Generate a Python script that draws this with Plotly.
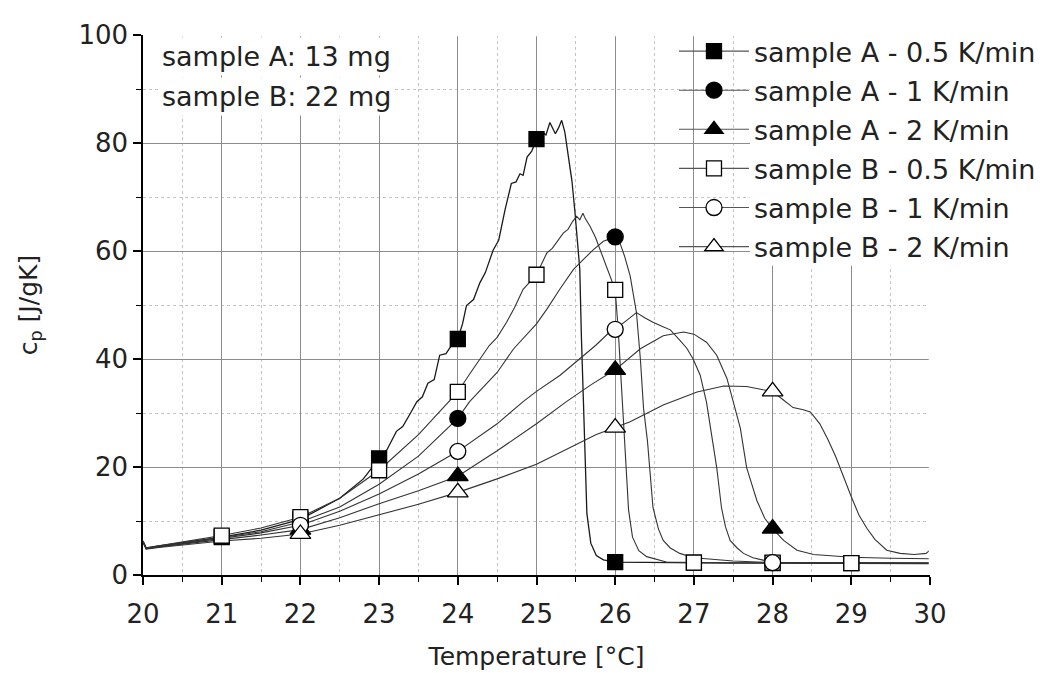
import plotly.graph_objects as go

# ---------------- data ----------------
A05_T = [20.00, 20.04, 20.2, 20.5, 21.0, 21.5, 22.0, 22.5, 22.8, 23.0, 23.1, 23.22, 23.3, 23.4, 23.48,
         23.55, 23.62, 23.7, 23.77, 23.85, 23.92, 24.0, 24.06, 24.11, 24.2, 24.28, 24.35, 24.45, 24.52,
         24.6, 24.64, 24.68, 24.74, 24.79, 24.83, 24.88, 24.94, 25.0, 25.07, 25.12, 25.17, 25.21, 25.24,
         25.28, 25.32, 25.36, 25.40, 25.45, 25.49, 25.52, 25.55, 25.57, 25.60, 25.62, 25.64, 25.69, 25.76,
         25.85, 26.0, 26.5, 27.0, 27.5, 28.0, 28.5, 29.0, 29.5, 30.0]
A05_cp = [6.3, 5.0, 5.4, 6.0, 7.0, 8.3, 10.3, 14.2, 17.8, 21.6, 23.2, 26.6, 27.5, 30.0, 32.1,
          33.0, 35.5, 36.2, 40.7, 41.0, 42.5, 43.7, 46.5, 49.9, 51.0, 54.1, 56.0, 60.2, 62.0,
          67.6, 70.0, 72.5, 72.8, 74.3, 74.0, 77.4, 78.5, 80.7, 82.0, 81.5, 83.8, 82.5, 81.7,
          82.8, 84.2, 82.0, 78.0, 73.0, 67.0, 62.0, 56.6, 44.4, 32.0, 21.0, 11.4, 5.9, 3.6,
          2.8, 2.4, 2.3, 2.3, 2.2, 2.2, 2.2, 2.2, 2.1, 2.1]

A1_T = [20.00, 20.04, 20.2, 20.5, 21.0, 21.5, 22.0, 22.5, 23.0, 23.5, 24.0, 24.15, 24.5, 24.71, 25.0,
        25.13, 25.3, 25.47, 25.6, 25.72, 25.85, 26.0, 26.06, 26.12, 26.19, 26.23, 26.27, 26.32, 26.36,
        26.41, 26.48, 26.55, 26.61, 26.7, 26.82, 27.0, 27.5, 28.0, 28.5, 29.0, 29.5, 30.0]
A1_cp = [6.2, 4.9, 5.3, 5.9, 6.9, 8.0, 9.8, 12.6, 16.8, 22.0, 29.0, 32.1, 37.5, 41.9, 46.5,
         49.2, 53.0, 56.6, 58.5, 60.2, 61.8, 62.6, 61.5, 59.0, 55.4, 52.3, 48.6, 40.0, 30.9,
         24.8, 12.5, 8.5, 6.4, 5.0, 4.0, 3.2, 2.6, 2.3, 2.3, 2.2, 2.2, 2.2]

A2_T = [20.00, 20.04, 20.2, 20.5, 21.0, 21.5, 22.0, 22.5, 23.0, 23.5, 24.0, 24.5, 25.0, 25.38, 25.7,
        26.0, 26.32, 26.61, 26.87, 27.0, 27.16, 27.29, 27.42, 27.5, 27.59, 27.67, 27.8, 27.9, 28.0,
        28.14, 28.31, 28.52, 28.8, 29.0, 29.5, 30.0]
A2_cp = [6.1, 4.9, 5.2, 5.7, 6.6, 7.4, 8.4, 10.6, 13.2, 15.6, 18.3, 23.0, 28.0, 32.1, 35.3,
         38.0, 41.9, 44.3, 45.0, 44.6, 43.1, 40.7, 36.4, 32.1, 27.2, 19.9, 13.8, 10.5, 8.6,
         6.4, 4.6, 3.8, 3.5, 3.3, 3.1, 3.0]

B05_T = [20.00, 20.04, 20.2, 20.5, 21.0, 21.5, 22.0, 22.5, 23.0, 23.5, 24.0, 24.14, 24.28, 24.4, 24.5,
         24.62, 24.72, 24.83, 24.9, 25.0, 25.13, 25.2, 25.34, 25.4, 25.46, 25.51, 25.55, 25.59, 25.62,
         25.68, 25.75, 25.81, 25.9, 26.0, 26.04, 26.08, 26.12, 26.17, 26.22, 26.3, 26.4, 26.65, 27.0,
         27.5, 28.0, 28.5, 29.0, 29.5, 30.0]
B05_cp = [6.3, 5.0, 5.4, 6.1, 7.3, 8.7, 10.7, 14.2, 19.4, 26.0, 33.9, 37.0, 40.0, 42.5, 44.0,
          46.8, 49.5, 52.9, 54.0, 55.6, 59.6, 60.5, 63.3, 64.0, 65.5, 66.4, 65.8, 67.0, 66.0,
          64.6, 62.5, 60.2, 57.0, 52.8, 45.0, 35.0, 23.0, 12.0, 7.0, 4.5, 3.4, 2.4, 2.3,
          2.3, 2.3, 2.3, 2.2, 2.2, 2.2]

B1_T = [20.00, 20.04, 20.2, 20.5, 21.0, 21.5, 22.0, 22.5, 23.0, 23.5, 24.0, 24.5, 24.83, 25.0, 25.3,
        25.55, 25.75, 25.93, 26.0, 26.15, 26.27, 26.38, 26.48, 26.6, 26.7, 26.82, 26.91, 26.99, 27.08,
        27.16, 27.23, 27.29, 27.35, 27.4, 27.46, 27.55, 27.63, 27.75, 27.88, 28.0, 28.5, 29.0, 29.5, 30.0]
B1_cp = [6.2, 4.9, 5.2, 5.8, 6.8, 7.8, 9.2, 11.8, 15.0, 18.7, 22.9, 28.0, 32.1, 34.0, 37.0,
         40.0, 42.5, 45.0, 45.5, 47.2, 48.6, 47.6, 46.8, 46.0, 45.4, 43.5, 42.0, 40.0, 37.0,
         32.0, 25.5, 19.9, 12.5, 9.0, 6.4, 5.0, 4.0, 3.2, 2.75, 2.3, 2.3, 2.2, 2.2, 2.2]

B2_T = [20.00, 20.04, 20.2, 20.5, 21.0, 21.5, 22.0, 22.5, 23.0, 23.5, 24.0, 24.5, 25.0, 25.34, 25.76,
        26.0, 26.19, 26.61, 27.04, 27.38, 27.67, 27.88, 28.0, 28.13, 28.26, 28.39, 28.48, 28.6, 28.7,
        28.8, 28.9, 29.0, 29.1, 29.2, 29.3, 29.45, 29.62, 29.8, 29.95, 30.0]
B2_cp = [6.0, 4.8, 5.1, 5.5, 6.3, 6.8, 7.6, 9.2, 11.2, 13.1, 15.3, 17.8, 20.5, 22.9, 26.0,
         27.3, 28.4, 31.5, 33.9, 35.0, 34.9, 34.3, 34.0, 32.5, 31.0, 30.6, 30.2, 28.0, 25.2,
         22.0, 18.2, 14.5, 11.0, 8.6, 6.6, 4.6, 4.0, 3.8, 4.0, 4.6]

MARK_05 = [21, 22, 23, 24, 25, 26, 27, 28, 29]   # temperatures carrying a symbol
MARK_12 = [22, 24, 26, 28]

series = [
    ("sample A - 0.5 K/min", A05_T, A05_cp, MARK_05, "square", "black", 15),
    ("sample A - 1 K/min", A1_T, A1_cp, MARK_12, "circle", "black", 16),
    ("sample A - 2 K/min", A2_T, A2_cp, MARK_12, "triangle-up", "black", 18),
    ("sample B - 0.5 K/min", B05_T, B05_cp, MARK_05, "square", "white", 15),
    ("sample B - 1 K/min", B1_T, B1_cp, MARK_12, "circle", "white", 16),
    ("sample B - 2 K/min", B2_T, B2_cp, MARK_12, "triangle-up", "white", 18),
]
for s in series:
    assert len(s[1]) == len(s[2]), s[0]

FONT = "DejaVu Sans"
LEG_LINE = "#555555"
fig = go.Figure()

# curves
for name, T, cp, marks, sym, fill, size in series:
    fig.add_trace(go.Scatter(x=T, y=cp, mode="lines", showlegend=False, hoverinfo="skip",
                             line=dict(color="#1a1a1a" if "A - 0.5" in name else "#333333",
                                       width=1.3 if "A - 0.5" in name else 1.1)))
# symbols
for name, T, cp, marks, sym, fill, size in series:
    mx = [t for t in T if t in marks]
    my = [c for t, c in zip(T, cp) if t in marks]
    fig.add_trace(go.Scatter(x=mx, y=my, mode="markers", showlegend=False,
                             marker=dict(symbol=sym, size=size, color=fill,
                                         line=dict(color="black", width=1.3))))
# legend entries
for i, (name, T, cp, marks, sym, fill, size) in enumerate(series):
    fig.add_trace(go.Scatter(x=[None], y=[None], mode="lines+markers", name=name,
                             legendgroup=str(i),
                             line=dict(color=LEG_LINE, width=1.1),
                             marker=dict(symbol=sym, size=size, color=fill,
                                         line=dict(color="black", width=1.3))))

axis_common = dict(
    showline=True, linecolor="black", linewidth=1.5, mirror=False,
    ticks="outside", ticklen=8, tickwidth=1.5, tickcolor="black",
    showgrid=True, gridcolor="#8c8c8c", gridwidth=1.2, zeroline=False,
    tickfont=dict(family=FONT, size=26, color="#222222"),
)

fig.update_xaxes(range=[20, 30], tickmode="linear", tick0=20, dtick=1, ticklabelstandoff=7,
                 minor=dict(dtick=0.5, ticks="outside", ticklen=5, tickwidth=1.2, tickcolor="black",
                            showgrid=True, gridcolor="#c4c4c4", griddash="dot", gridwidth=1),
                 title=dict(text="Temperature [°C]", font=dict(family=FONT, size=25, color="#222222"),
                            standoff=20),
                 **axis_common)
fig.update_yaxes(range=[0, 100], tickmode="linear", tick0=0, dtick=20,
                 minor=dict(dtick=10, ticks="outside", ticklen=5, tickwidth=1.2, tickcolor="black",
                            showgrid=True, gridcolor="#c4c4c4", griddash="dot", gridwidth=1),
                 title=dict(text="c<sub>p</sub> [J/gK]", font=dict(family=FONT, size=25, color="#222222"),
                            standoff=34),
                 **axis_common)

# white background behind the legend texts (grid hidden there)
fig.add_shape(type="rect", xref="paper", yref="paper", x0=0.7713, x1=1.0, y0=0.5727, y1=1.0,
              fillcolor="white", line=dict(width=0), layer="above")
# the original has no frame line along the top and right edges
fig.add_shape(type="line", xref="paper", yref="paper", x0=0.003, x1=1.0, y0=1.0, y1=1.0,
              line=dict(color="white", width=2.5), layer="above")
fig.add_shape(type="line", xref="paper", yref="paper", x0=1.0, x1=1.0, y0=0.012, y1=1.0,
              line=dict(color="white", width=2.5), layer="above")

for txt, yy in [("sample A: 13 mg", 0.9595), ("sample B: 22 mg", 0.8855)]:
    fig.add_annotation(text=txt, xref="paper", yref="paper", x=0.019, y=yy,
                       xanchor="left", yanchor="middle", showarrow=False,
                       bgcolor="white", borderpad=3,
                       font=dict(family=FONT, size=27, color="#222222"))

fig.update_layout(
    width=1063, height=673, autosize=False,
    margin=dict(l=135, r=141, t=24, b=106),
    paper_bgcolor="white", plot_bgcolor="white",
    font=dict(family=FONT, size=26, color="#222222"),
    legend=dict(x=0.6747, y=1.0147, xanchor="left", yanchor="top", itemwidth=70,
                bgcolor="rgba(0,0,0,0)", borderwidth=0, tracegroupgap=1,
                font=dict(family=FONT, size=27, color="#222222"),
                traceorder="grouped"),
)

fig.write_html("out.html")
